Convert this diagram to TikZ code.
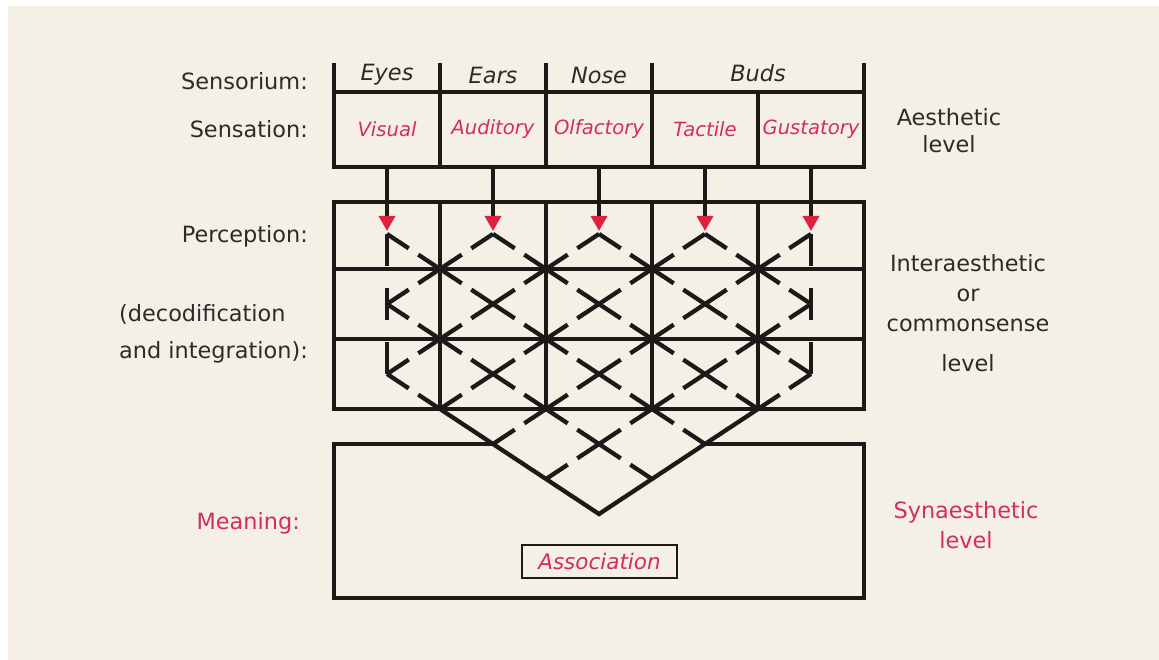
\documentclass[tikz,border=0pt]{standalone}
\usepackage{fontspec}
\setmainfont{DejaVu Sans}
\usetikzlibrary{arrows.meta}
\definecolor{paper}{HTML}{F5F0E6}
\definecolor{ink}{HTML}{1C1A18}
\definecolor{txt}{HTML}{2B2B2B}
\definecolor{rosered}{HTML}{D42C5C}
\definecolor{tipred}{HTML}{E0203F}
\begin{document}
\begin{tikzpicture}[x=1pt,y=-1pt,
  lab/.style={font=\fontsize{22.4}{27}\selectfont, text=txt, inner sep=0pt},
  head/.style={font=\fontsize{22.4}{26}\selectfont\itshape, text=txt, inner sep=0pt},
  sens/.style={font=\fontsize{19.6}{23}\selectfont\itshape, text=rosered},
  cell/.style={draw=ink, line width=3.1pt, minimum width=106pt, minimum height=75pt, inner sep=0pt, outer sep=0pt},
  gridline/.style={draw=ink, line width=3.1pt},
  arr/.style={draw=ink, line width=3.3pt, -{Triangle[color=tipred, length=15pt, width=16pt]}},
  dsh/.style={draw=ink, line width=4.3pt, dash pattern=on 26pt off 11.5pt},
  wallline/.style={draw=ink, line width=4.3pt, dash pattern=on 32pt off 22pt},
  vline/.style={draw=ink, line width=4.3pt, line join=miter}]
\useasboundingbox (0,0) rectangle (1159,660);
\fill[white] (0,0) rectangle (1159,660);
\fill[paper] (8,6) rectangle (1162,663);

% left labels
\node[lab, anchor=east] (sensorium) at (308,81) {Sensorium:};
\node[lab, anchor=east] (sensationlab) at (308,129) {Sensation:};
\node[lab, anchor=east] (perceptionlab) at (308,236) {Perception:};
\node[lab, anchor=east, align=left, font=\fontsize{22.4}{37}\selectfont] (decod) at (308,334) {(decodification\\and integration):};
\node[lab, anchor=east, text=rosered] (meaninglab) at (300,523) {Meaning:};

% right labels
\node[lab, align=center] (aesthetic) at (949,131) {Aesthetic\\level};
\node[lab, align=center, font=\fontsize{22.4}{30}\selectfont] (inter) at (968,293) {Interaesthetic\\or\\commonsense};
\node[lab] (interlevel) at (968,363) {level};
\node[lab, align=center, text=rosered, font=\fontsize{22.4}{30}\selectfont] (syn) at (966,525) {Synaesthetic\\level};

% header row
\node[head] (eyes) at (387,75) {Eyes};
\node[head] (ears) at (493,75) {Ears};
\node[head] (nose) at (599,75) {Nose};
\node[head] (buds) at (758,73) {Buds};
\foreach \x in {334,440,546,652,864} \draw[gridline] (\x,63) -- (\x,92);

% sensation cells
\node[cell, sens] (visual) at (387,129.5) {Visual};
\node[cell, sens] (auditory) at (493,129.5) {Auditory};
\node[cell, sens] (olfactory) at (599,129.5) {Olfactory};
\node[cell, sens] (tactile) at (705,129.5) {Tactile};
\node[cell, sens] (gustatory) at (811,129.5) {Gustatory};

% perception grid
\draw[gridline] (334,202) rectangle (864,409);
\draw[gridline] (334,269) -- (864,269);
\draw[gridline] (334,339) -- (864,339);
\foreach \x in {440,546,652,758} \draw[gridline] (\x,202) -- (\x,409);

% lattice points
\foreach \i in {0,...,8}{\foreach \j in {0,...,8}{\coordinate (L\i-\j) at ({387+53*\i},{234+35*\j});}}

% arrows
\coordinate (T0) at (387,231);
\coordinate (T1) at (493,231);
\coordinate (T2) at (599,231);
\coordinate (T3) at (705,231);
\coordinate (T4) at (811,231);
\draw[arr] (visual.south) -- (T0);
\draw[arr] (auditory.south) -- (T1);
\draw[arr] (olfactory.south) -- (T2);
\draw[arr] (tactile.south) -- (T3);
\draw[arr] (gustatory.south) -- (T4);

% dashed lattice: down-right segments
\foreach \i/\j [evaluate=\i as \ii using int(\i+1), evaluate=\j as \jj using int(\j+1)] in
  {0/0,1/1,2/2,3/3,4/4,5/5, 2/0,3/1,4/2,5/3,6/4, 4/0,5/1,6/2,7/3, 6/0,7/1,
   0/2,1/3,2/4,3/5,4/6, 0/4}
  \draw[dsh] (L\i-\j) -- (L\ii-\jj);
% down-left segments
\foreach \i/\j [evaluate=\i as \ii using int(\i-1), evaluate=\j as \jj using int(\j+1)] in
  {2/0,1/1, 4/0,3/1,2/2,1/3, 6/0,5/1,4/2,3/3,2/4, 8/0,7/1,6/2,5/3,4/4,3/5,
   8/2,7/3,6/4,5/5,4/6, 8/4}
  \draw[dsh] (L\i-\j) -- (L\ii-\jj);
% walls
\draw[wallline] (L0-0) -- (L0-4);
\draw[wallline] (L8-0) -- (L8-4);
% solid V
\draw[vline] (L1-5) -- (L4-8) -- (L7-5);

% meaning box
\draw[gridline] (L2-6) -- (334,444) -- (334,598) -- (864,598) -- (864,444) -- (L6-6);
\node[draw=ink, line width=2.6pt, minimum width=155pt, minimum height=33pt, inner sep=0pt,
      font=\fontsize{21.5}{26}\selectfont\itshape, text=rosered] (assoc) at (599.5,561.5) {Association};
\end{tikzpicture}
\end{document}
